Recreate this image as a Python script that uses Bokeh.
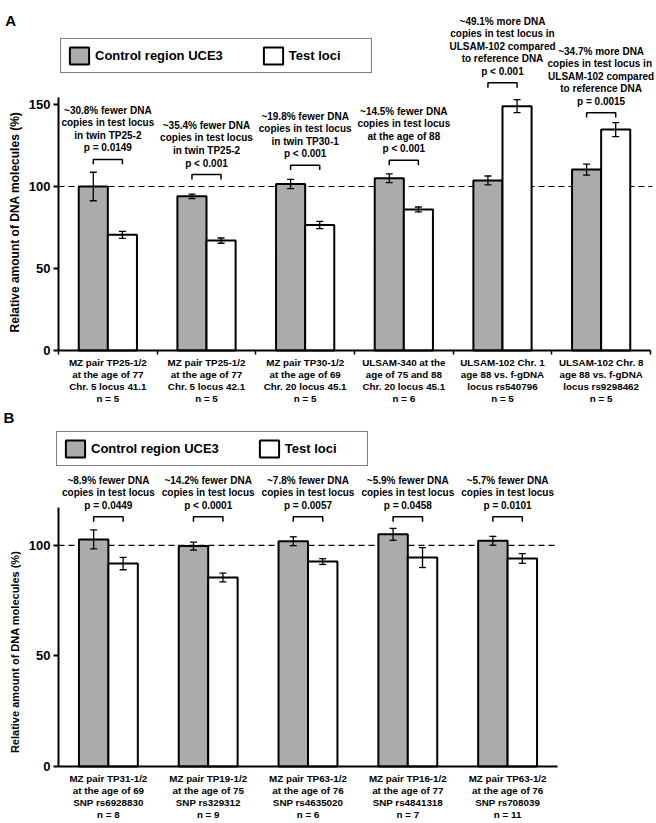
import math
from bokeh.plotting import figure
from bokeh.models import (Range1d, FixedTicker, LinearAxis, Whisker, TeeHead,
                          ColumnDataSource, Legend, LegendItem, Label)
from bokeh.layouts import column
from bokeh.embed import file_html
from bokeh.resources import INLINE
from bokeh.core.properties import value

FONT = "Liberation Sans"
GREY = "#ababab"
YLABEL = "Relative amount  of DNA molecules (%)"
SERIES = ["Control region UCE3", "Test loci"]
REF_LEVEL = 100

# ---------------- Panel A data ----------------
cats_A = [
    "MZ pair TP25-1/2\nat the age of 77\nChr. 5 locus 41.1\nn = 5",
    "MZ pair TP25-1/2\nat the age of 77\nChr. 5 locus 42.1\nn = 5",
    "MZ pair TP30-1/2\nat the age of 69\nChr. 20 locus 45.1\nn = 5",
    "ULSAM-340 at the\nage of 75 and 88\nChr. 20 locus 45.1\nn = 6",
    "ULSAM-102 Chr. 1\nage 88 vs. f-gDNA\nlocus rs540796\nn = 5",
    "ULSAM-102 Chr. 8\nage 88 vs. f-gDNA\nlocus rs9298462\nn = 5",
]
ctrl_A = [100.0, 94.0, 101.5, 105.0, 103.7, 110.3]
ctrl_err_A = [8.7, 1.4, 2.8, 2.7, 2.7, 3.4]
test_A = [70.5, 67.0, 76.5, 86.0, 149.0, 134.7]
test_err_A = [2.1, 1.6, 2.2, 1.5, 4.0, 4.3]
bracket_A = [116.5, 107.3, 113.0, 116.0, 163.2, 145.0]
notes_A = [
    "~30.8% fewer DNA\ncopies in test locus\nin twin TP25-2\np = 0.0149",
    "~35.4% fewer DNA\ncopies in test locus\nin twin TP25-2\np < 0.001",
    "~19.8% fewer DNA\ncopies in test locus\nin twin TP30-1\np < 0.001",
    "~14.5% fewer DNA\ncopies in test locus\nat the age of 88\np < 0.001",
    "~49.1% more DNA\ncopies in test locus in\nULSAM-102 compared\nto reference DNA\np < 0.001",
    "~34.7% more DNA\ncopies in test locus  in\nULSAM-102 compared\nto reference DNA\np = 0.0015",
]
yticks_A = [0, 50, 100, 150]

# ---------------- Panel B data ----------------
cats_B = [
    "MZ pair TP31-1/2\nat the age of 69\nSNP rs6928830\nn = 8",
    "MZ pair TP19-1/2\nat the age of 75\nSNP rs329312\nn = 9",
    "MZ pair TP63-1/2\nat the age of 76\nSNP rs4635020\nn = 6",
    "MZ pair TP16-1/2\nat the age of 77\nSNP rs4841318\nn = 7",
    "MZ pair TP63-1/2\nat the age of 76\nSNP rs708039\nn = 11",
]
ctrl_B = [102.7, 99.7, 101.9, 105.0, 102.1]
ctrl_err_B = [4.3, 1.8, 2.0, 2.7, 2.0]
test_B = [91.8, 85.5, 92.7, 94.5, 94.1]
test_err_B = [2.8, 2.0, 1.3, 4.5, 2.2]
bracket_B = [113.0, 113.0, 113.0, 113.0, 113.0]
notes_B = [
    "~8.9% fewer DNA\ncopies in test locus\np = 0.0449",
    "~14.2% fewer DNA\ncopies in test locus\np < 0.0001",
    "~7.8% fewer DNA\ncopies in test locus\np = 0.0057",
    "~5.9% fewer DNA\ncopies in test locus\np = 0.0458",
    "~5.7% fewer DNA\ncopies in test locus\np = 0.0101",
]
yticks_B = [0, 50, 100]


def make_panel(letter, cats, ctrl, ctrl_err, test, test_err, brackets, notes,
               yticks, width, height, x_lo, x_hi, y_lo, y_hi, axis_top, leg_h,
               legend_loc, letter_xy, ylab_xy, ylab_size, boundary_ticks, ref_end):
    n = len(cats)
    w = 0.295
    centers = [i + 0.5 for i in range(n)]
    xc = [c - w / 2 for c in centers]
    xt = [c + w / 2 for c in centers]
    src = ColumnDataSource(dict(
        xm=centers, xc=xc, xt=xt, ctrl=ctrl, test=test,
        cl=[v - e for v, e in zip(ctrl, ctrl_err)],
        cu=[v + e for v, e in zip(ctrl, ctrl_err)],
        tl=[v - e for v, e in zip(test, test_err)],
        tu=[v + e for v, e in zip(test, test_err)],
        lab=cats, note=notes, br=brackets,
        bxs=[[a, a, b, b] for a, b in zip(xc, xt)],
        bys=[[y - leg_h, y, y, y - leg_h] for y in brackets],
    ))
    p = figure(frame_width=width, frame_height=height,
               x_range=Range1d(x_lo, x_hi), y_range=Range1d(y_lo, y_hi),
               x_axis_type=None, y_axis_type=None,
               output_backend="svg", toolbar_location=None,
               min_border_left=0, min_border_right=0,
               min_border_top=0, min_border_bottom=0)
    p.outline_line_color = None

    # dashed reference line at 100 %
    p.segment(x0=0, x1=ref_end, y0=REF_LEVEL, y1=REF_LEVEL, line_color="black",
              line_width=1.2, line_dash="6 4")

    r1 = p.vbar(x="xc", width=w, top="ctrl", bottom=0, source=src,
                fill_color=GREY, line_color="black", line_width=2)
    r2 = p.vbar(x="xt", width=w, top="test", bottom=0, source=src,
                fill_color="white", line_color="black", line_width=2)

    for base, lo, hi in (("xc", "cl", "cu"), ("xt", "tl", "tu")):
        p.add_layout(Whisker(source=src, base=base, lower=lo, upper=hi,
                             dimension="height", line_color="black", line_width=1.3,
                             level="annotation",
                             upper_head=TeeHead(size=7, line_color="black", line_width=1.3),
                             lower_head=TeeHead(size=7, line_color="black", line_width=1.3)))

    p.multi_line(xs="bxs", ys="bys", source=src, line_color="black", line_width=1.5)

    p.text(x="xm", y="br", text="note", source=src, text_align="center",
           text_baseline="bottom", y_offset=-6, text_font=value(FONT),
           text_font_style="bold", text_font_size="10px", text_line_height=1.14,
           text_color="black")
    p.text(x="xm", y=0, text="lab", source=src, text_align="center",
           text_baseline="top", y_offset=7, text_font=value(FONT),
           text_font_style="bold", text_font_size="9.8px", text_line_height=1.09,
           text_color="black")

    # axes (placed at data 0 so that all texts sit inside the frame)
    yax = LinearAxis(ticker=FixedTicker(ticks=yticks), bounds=(0, axis_top),
                     fixed_location=0, axis_line_width=2, major_tick_line_width=2,
                     major_tick_out=5, major_tick_in=0, minor_tick_out=0, minor_tick_in=0,
                     major_label_standoff=3,
                     major_label_text_font=FONT, major_label_text_font_style="bold",
                     major_label_text_font_size="13px", major_label_text_color="black")
    p.add_layout(yax, "left")
    xt_ticks = list(range(n + 1)) if boundary_ticks else []
    xax = LinearAxis(ticker=FixedTicker(ticks=xt_ticks), fixed_location=0, bounds=(0, n),
                     axis_line_width=2, major_tick_line_width=1.5,
                     major_tick_out=4 if boundary_ticks else 0, major_tick_in=0,
                     minor_tick_out=0, minor_tick_in=0, major_label_standoff=0,
                     major_label_overrides={t: "" for t in xt_ticks},
                     major_label_text_font_size="0px")
    p.add_layout(xax, "below")

    # y-axis title
    p.add_layout(Label(x=ylab_xy[0], y=ylab_xy[1], text=YLABEL, angle=math.pi / 2,
                       text_font=FONT, text_font_style="bold", text_font_size=ylab_size,
                       text_align="center", text_baseline="middle", text_color="black"))

    legend = Legend(items=[LegendItem(label=SERIES[0], renderers=[r1]),
                           LegendItem(label=SERIES[1], renderers=[r2])],
                    location=legend_loc, orientation="horizontal",
                    border_line_color="black", border_line_width=1.5,
                    background_fill_color="white", background_fill_alpha=1.0,
                    padding=6, spacing=38, margin=0, label_standoff=4,
                    glyph_width=24, glyph_height=21, label_height=18, label_width=76,
                    label_text_font=FONT, label_text_font_style="bold",
                    label_text_font_size="13px", label_text_color="black")
    p.add_layout(legend)

    p.add_layout(Label(x=letter_xy[0], y=letter_xy[1], text=letter, text_font=FONT,
                       text_font_style="bold", text_font_size="15px",
                       text_baseline="middle", text_align="left", text_color="black"))
    return p


# Panel A: data x 0 -> 58 px, 6 -> 650 px; y 0 -> 350 px, 100 -> 186 px
pA = make_panel("A", cats_A, ctrl_A, ctrl_err_A, test_A, test_err_A, bracket_A, notes_A,
                yticks_A, width=656, height=405, x_lo=-0.588, x_hi=6.061,
                y_lo=-33.54, y_hi=213.41, axis_top=154, leg_h=3.0,
                legend_loc=(60, 332), letter_xy=(-0.54, 201.2), ylab_xy=(-0.44, 79.3),
                ylab_size="12px", boundary_ticks=True, ref_end=6.02)
# Panel B: data x 0 -> 58 px, 5 -> 557 px; y 0 -> 766 px, 100 -> 545 px (page)
pB = make_panel("B", cats_B, ctrl_B, ctrl_err_B, test_B, test_err_B, bracket_B, notes_B,
                yticks_B, width=562, height=416, x_lo=-0.581, x_hi=5.05,
                y_lo=-24.9, y_hi=163.3, axis_top=117, leg_h=2.3,
                legend_loc=(56, 355), letter_xy=(-0.55, 157.9), ylab_xy=(-0.44, 52.5),
                ylab_size="11px", boundary_ticks=False, ref_end=5.0)

layout = column(pA, pB, spacing=0)
open("out.html", "w").write(file_html(layout, INLINE))
